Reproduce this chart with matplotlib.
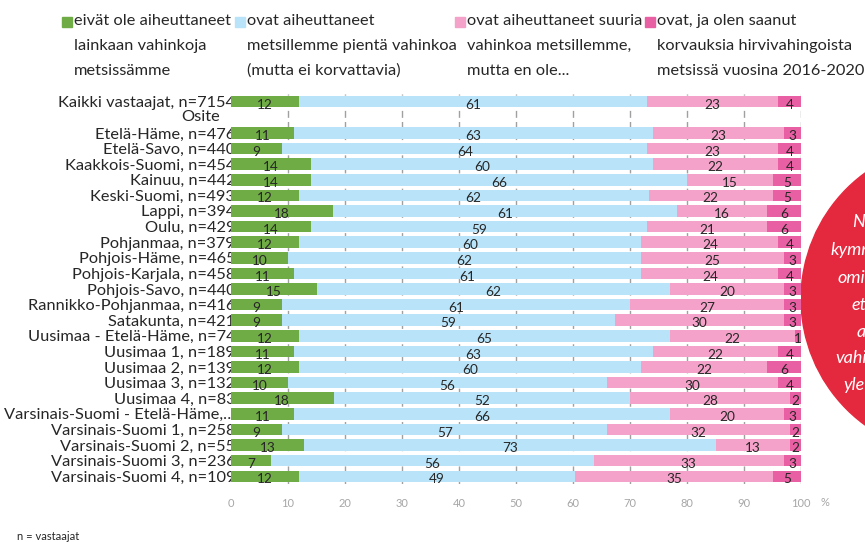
import matplotlib
matplotlib.use("Agg")
import matplotlib.pyplot as plt
from matplotlib.patches import Circle, Rectangle
import matplotlib.transforms as mtransforms
import numpy as np

plt.rcParams['font.family'] = ['Lato', 'DejaVu Sans']

categories = [
    "Kaikki vastaajat, n=7154", "Osite", "Etelä-Häme, n=476", "Etelä-Savo, n=440",
    "Kaakkois-Suomi, n=454", "Kainuu, n=442", "Keski-Suomi, n=493", "Lappi, n=394",
    "Oulu, n=429", "Pohjanmaa, n=379", "Pohjois-Häme, n=465", "Pohjois-Karjala, n=458",
    "Pohjois-Savo, n=440", "Rannikko-Pohjanmaa, n=416", "Satakunta, n=421",
    "Uusimaa - Etelä-Häme, n=74", "Uusimaa 1, n=189", "Uusimaa 2, n=139",
    "Uusimaa 3, n=132", "Uusimaa 4, n=83", "Varsinais-Suomi - Etelä-Häme,…",
    "Varsinais-Suomi 1, n=258", "Varsinais-Suomi 2, n=55", "Varsinais-Suomi 3, n=236",
    "Varsinais-Suomi 4, n=109",
]
# None = empty heading row ("Osite")
ei_vahinkoja = [12, None, 11, 9, 14, 14, 12, 18, 14, 12, 10, 11, 15, 9, 9, 12, 11, 12, 10, 18, 11, 9, 13, 7, 12]
pienta = [61, None, 63, 64, 60, 66, 62, 61, 59, 60, 62, 61, 62, 61, 59, 65, 63, 60, 56, 52, 66, 57, 73, 56, 49]
suuria = [23, None, 23, 23, 22, 15, 22, 16, 21, 24, 25, 24, 20, 27, 30, 22, 22, 22, 30, 28, 20, 32, 13, 33, 35]
korvauksia = [4, None, 3, 4, 4, 5, 5, 6, 6, 4, 3, 4, 3, 3, 3, 1, 4, 6, 4, 2, 3, 2, 2, 3, 5]

series_names = [
    ["eivät ole aiheuttaneet", "lainkaan vahinkoja", "metsissämme"],
    ["ovat aiheuttaneet", "metsillemme pientä vahinkoa", "(mutta ei korvattavia)"],
    ["ovat aiheuttaneet suuria", "vahinkoa metsillemme,", "mutta en ole..."],
    ["ovat, ja olen saanut", "korvauksia hirvivahingoista", "metsissä vuosina 2016-2020"],
]
colors = ["#70AC46", "#B9E3F8", "#F4A2C9", "#E95FA3"]
xticks = list(range(0, 101, 10))

W, H = 865, 542
fig = plt.figure(figsize=(W / 100, H / 100), dpi=100)

def fx(px):
    return px / W

def fy(py):
    return 1 - py / H

ax_top, ax_bot = 93.9, 484.1
ax = fig.add_axes([fx(231), fy(ax_bot), 570 / W, (ax_bot - ax_top) / H])

n = len(categories)
ypos = np.arange(n)
series = [ei_vahinkoja, pienta, suuria, korvauksia]
for i in range(n):
    vals = [s[i] for s in series]
    if vals[0] is None:
        continue
    tot = sum(vals)
    left = 0.0
    for v, c in zip(vals, colors):
        w = v * 100.0 / tot
        ax.barh(ypos[i], w, left=left, height=0.74, color=c, edgecolor='none', zorder=2)
        ax.text(left + w / 2, ypos[i] + 0.2, str(v), ha='center', va='center',
                fontsize=9.8, color='#262626', zorder=3)
        left += w

ax.set_xlim(0, 100)
ax.set_ylim(n - 0.5, -0.5)
ax.set_xticks(xticks)
ax.set_xticklabels([str(t) for t in xticks], fontsize=8, color='#A6A6A6')
ax.tick_params(axis='x', length=0, pad=10)
ax.set_yticks(ypos)
ylabels = [c if c != "Osite" else "" for c in categories]
ax.set_yticklabels(ylabels, fontsize=11.8, color='#262626')
ax.tick_params(axis='y', length=0, pad=-3)
for s in ax.spines.values():
    s.set_visible(False)
ax.set_axisbelow(True)
ax.grid(axis='x', color='#A0A0A0', linestyle=(0, (5, 3)), linewidth=1.0, zorder=0)
ax.get_xgridlines()[0].set_visible(False)
ax.grid(axis='y', visible=False)

# "Osite" heading (x in axes fraction)
ax.text(-0.019, 1, "Osite", transform=ax.get_yaxis_transform(), ha='right', va='center',
        fontsize=11.8, color='#262626')
ax.text(104.2, fy(502), "%", transform=mtransforms.blended_transform_factory(ax.transData, fig.transFigure),
        ha='center', va='center', fontsize=8, color='#A6A6A6')

# legend
leg_x = [62, 235, 455, 645]
for k in range(4):
    for j, line in enumerate(series_names[k]):
        fig.text(fx(leg_x[k] + 12), fy(21 + 25 * j), line, ha='left', va='center',
                 fontsize=11.8, color='#262626')
for k in range(4):
    fig.add_artist(Rectangle((fx(leg_x[k]), fy(27)), 9.5 / W, 9.5 / H,
                             transform=fig.transFigure, color=colors[k], zorder=5))

# red callout circle
circ = Circle((957 / 100, (H - 299) / 100), 1.56, transform=fig.dpi_scale_trans,
              color='#E4283D', zorder=-1)
fig.add_artist(circ)
circle_lines = [("N", 852, 222), ("kymm", 830, 250), ("omi", 837, 278), ("et", 851, 305),
                ("a", 857, 332), ("vahi", 835, 358), ("yle", 843, 385)]
for t, x, y in circle_lines:
    fig.text(fx(x), fy(y), t, ha='left', va='center', fontsize=13, style='italic', color='white')

fig.text(fx(17), fy(536), "n = vastaajat", ha='left', va='center', fontsize=8, color='#262626')

fig.savefig("out.png", dpi=100)
